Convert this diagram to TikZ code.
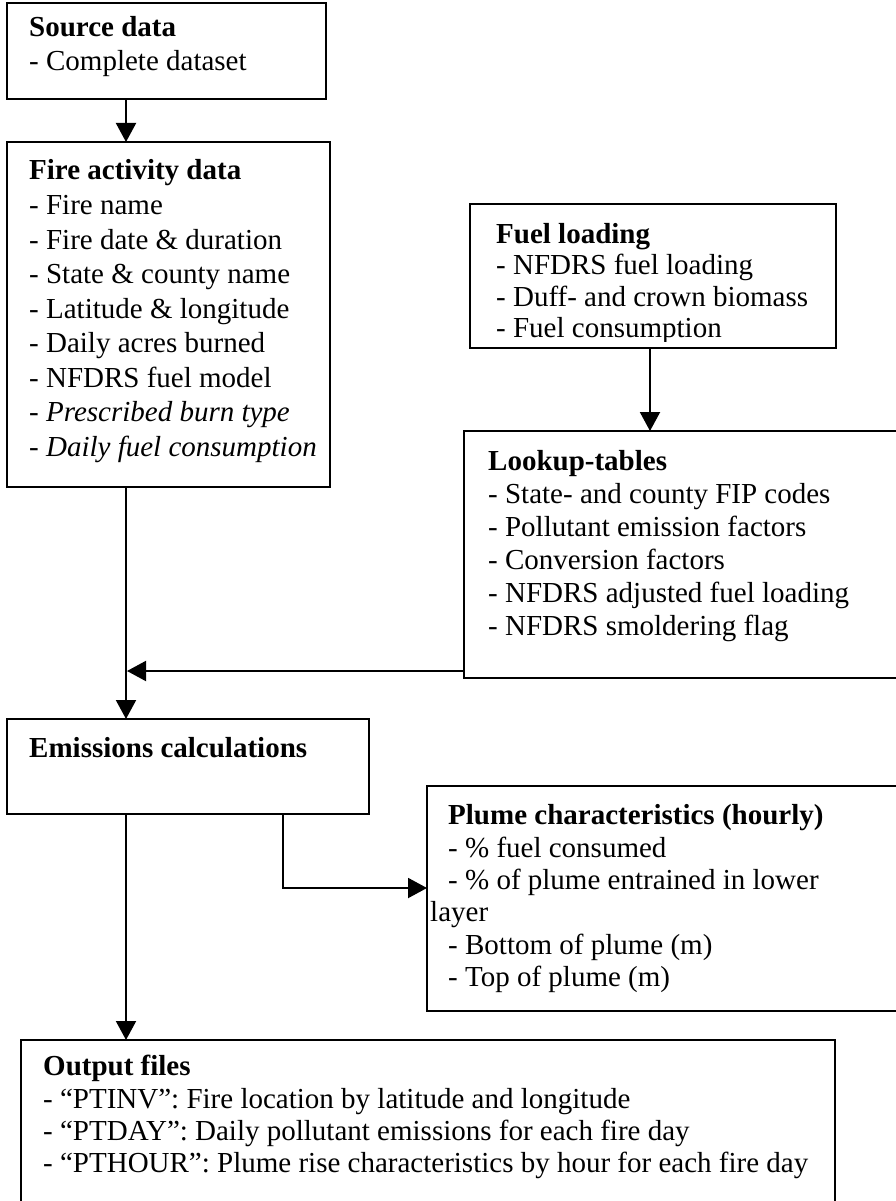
\documentclass[tikz,border=0pt]{standalone}
\usepackage{fontspec}
\setmainfont{Liberation Serif}
\usetikzlibrary{arrows.meta}
\begin{document}
\begin{tikzpicture}[x=1pt,y=-1pt,
  box/.style={draw=black, line width=2pt, rectangle, inner sep=0pt, outer sep=0pt, anchor=north west},
  txt/.style={anchor=base west, inner sep=0pt, font=\fontsize{29}{33}\selectfont},
  hd/.style={anchor=base west, inner sep=0pt, font=\fontsize{29}{33}\selectfont\bfseries},
  it/.style={anchor=base west, inner sep=0pt, font=\fontsize{29}{33}\selectfont\itshape},
  conn/.style={line width=2pt},
  arr/.style={line width=2pt, -{Triangle[length=19pt,width=20pt]}}]
\useasboundingbox (0,0) rectangle (896,1201);
\clip (0,0) rectangle (896,1201);
% boxes
\node[box, minimum width=319pt, minimum height=96pt] (src) at (7,3) {};
\node[box, minimum width=323pt, minimum height=345pt] (fire) at (7,142) {};
\node[box, minimum width=366pt, minimum height=144pt] (fuel) at (470,204) {};
\node[box, minimum width=460pt, minimum height=247pt] (look) at (464,431) {};
\node[box, minimum width=362pt, minimum height=95pt] (emis) at (7,719) {};
\node[box, minimum width=490pt, minimum height=225pt] (plume) at (427,786) {};
\node[box, minimum width=814pt, minimum height=200pt] (out) at (21,1040) {};
% source text
\node[hd] (s0) at (29,37) {Source data};
\node[txt] (s1) at (29,71) {- Complete dataset};
% fire text
\node[hd] (f0) at (29,180) {Fire activity data};
\node[txt] (f1) at (29,214.5) {- Fire name};
\node[txt] (f2) at (29,249) {- Fire date \& duration};
\node[txt] (f3) at (29,283.5) {- State \& county name};
\node[txt] (f4) at (29,318) {- Latitude \& longitude};
\node[txt] (f5) at (29,352.5) {- Daily acres burned};
\node[txt] (f6) at (29,387) {- NFDRS fuel model};
\node[it] (f7) at (29,421.5) {- Prescribed burn type};
\node[it] (f8) at (29,456) {- Daily fuel consumption};
% fuel loading text
\begin{scope}
\clip (471,205) rectangle (835,341);
\node[hd] (u0) at (496,243) {Fuel loading};
\node[txt] (u1) at (496,274.5) {- NFDRS fuel loading};
\node[txt] (u2) at (496,306) {- Duff- and crown biomass};
\node[txt] (u3) at (496,337.5) {- Fuel consumption};
\end{scope}
% lookup text
\node[hd] (l0) at (488,470) {Lookup-tables};
\node[txt] (l1) at (488,503) {- State- and county FIP codes};
\node[txt] (l2) at (488,536) {- Pollutant emission factors};
\node[txt] (l3) at (488,569) {- Conversion factors};
\node[txt] (l4) at (488,602) {- NFDRS adjusted fuel loading};
\node[txt] (l5) at (488,635) {- NFDRS smoldering flag};
% emissions text
\node[hd] (e0) at (29,757) {Emissions calculations};
% plume text
\node[hd] (p0) at (448,824) {Plume characteristics (hourly)};
\node[txt] (p1) at (448,857) {- \% fuel consumed};
\node[txt] (p2) at (448,889) {- \% of plume entrained in lower};
\node[txt] (p3) at (430,921) {layer};
\node[txt] (p4) at (448,954) {- Bottom of plume (m)};
\node[txt] (p5) at (448,986) {- Top of plume (m)};
% output text
\node[hd] (o0) at (43,1075) {Output files};
\node[txt] (o1) at (43,1108) {- “PTINV”: Fire location by latitude and longitude};
\node[txt] (o2) at (43,1140) {- “PTDAY”: Daily pollutant emissions for each fire day};
\node[txt] (o3) at (43,1172) {- “PTHOUR”: Plume rise characteristics by hour for each fire day};
% connectors
\coordinate (xa) at (126,0);
\coordinate (xf) at (650,0);
\coordinate (xe) at (283,0);
\coordinate (hend) at (127,671);
\coordinate (ye) at (0,888);
\draw[arr] (src.south -| xa) -- (fire.north -| xa);
\draw[arr] (fire.south -| xa) -- (emis.north -| xa);
\draw[arr] (fuel.south -| xf) -- (look.north -| xf);
\draw[arr] (look.west |- hend) -- (hend);
\draw[arr] (emis.south -| xe) |- (plume.west |- ye);
\draw[arr] (emis.south -| xa) -- (out.north -| xa);
\end{tikzpicture}
\end{document}
